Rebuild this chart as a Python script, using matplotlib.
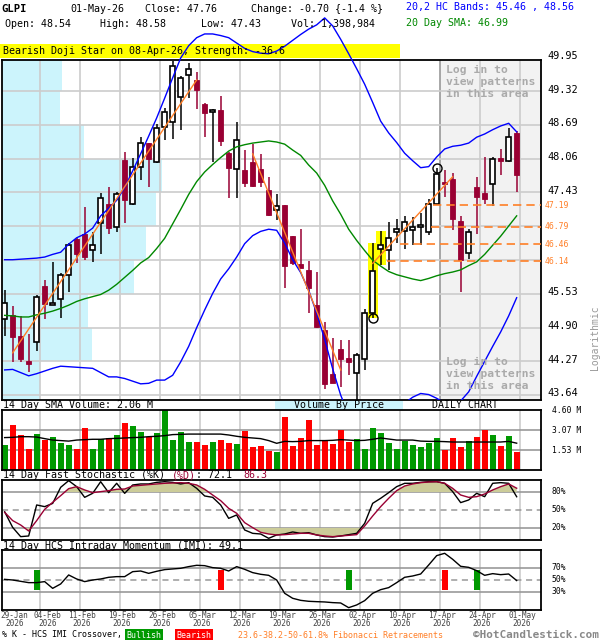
import matplotlib
matplotlib.use("Agg")
import matplotlib.pyplot as plt
import numpy as np
from matplotlib.patches import Rectangle
from matplotlib.transforms import blended_transform_factory

MONO = "DejaVu Sans Mono"
plt.rcParams["font.family"] = [MONO, "DejaVu Sans"]

# ---- GLPI daily data, 29-Jan-26 .. 01-May-26 (65 sessions)
opens = [45.06, 45.13, 44.74, 44.28, 44.64, 45.68, 45.33, 45.43, 45.88, 46.55,
         46.66, 46.35, 46.85, 47.21, 46.79, 48.03, 47.21, 47.90, 48.35, 48.00,
         48.65, 48.75, 49.22, 49.62, 49.52, 49.08, 48.93, 48.97, 48.16, 47.86,
         47.85, 48.00, 47.87, 47.47, 47.09, 47.19, 46.61, 46.09, 45.98, 45.32,
         44.86, 44.03, 44.51, 44.33, 44.06, 44.31, 45.17, 46.37, 46.35, 46.68,
         46.71, 46.73, 46.79, 46.68, 47.22, 47.63, 47.67, 46.89, 46.30, 47.52,
         47.41, 47.58, 48.07, 48.02, 48.54]
highs = [45.60, 45.31, 45.11, 44.78, 45.51, 45.79, 46.12, 45.93, 46.48, 46.57,
         47.16, 46.68, 47.41, 47.53, 47.44, 48.19, 48.07, 48.47, 48.36, 48.71,
         49.00, 49.89, 49.60, 49.85, 49.67, 49.10, 48.98, 49.23, 48.18, 48.75,
         48.22, 48.33, 48.15, 47.72, 47.40, 47.20, 46.62, 46.74, 46.15, 45.94,
         45.01, 44.70, 44.67, 44.67, 44.43, 45.24, 46.48, 46.71, 46.88, 46.93,
         46.99, 46.97, 47.04, 47.30, 47.88, 47.85, 47.79, 46.99, 46.74, 47.72,
         48.09, 48.09, 48.24, 48.64, 48.58]
lows = [44.74, 44.26, 44.26, 44.08, 44.47, 45.07, 45.32, 45.09, 45.57, 46.10,
        46.17, 46.13, 46.27, 46.65, 46.68, 46.86, 47.19, 47.66, 47.52, 47.97,
        48.41, 48.42, 48.59, 49.19, 48.98, 48.47, 48.00, 48.30, 47.32, 47.32,
        47.52, 47.52, 47.52, 46.99, 46.91, 45.64, 46.07, 46.02, 45.17, 44.89,
        43.75, 43.86, 43.80, 44.02, 43.50, 44.10, 45.09, 46.07, 45.98, 46.49,
        46.37, 46.45, 46.45, 46.63, 47.19, 47.35, 46.73, 45.57, 46.18, 46.66,
        47.22, 47.17, 47.75, 48.00, 47.43]
closes = [45.37, 44.73, 44.32, 44.23, 45.47, 45.34, 45.35, 45.88, 46.45, 46.27,
          46.23, 46.45, 47.32, 46.76, 47.40, 47.29, 47.91, 48.35, 48.05, 48.63,
          48.94, 49.79, 49.56, 49.73, 49.34, 48.92, 48.97, 48.38, 47.88, 48.41,
          47.61, 47.55, 47.63, 47.01, 47.17, 46.06, 46.11, 46.02, 45.65, 44.91,
          43.85, 43.86, 44.32, 44.26, 44.38, 45.18, 45.95, 46.45, 46.57, 46.74,
          46.88, 46.79, 46.82, 47.21, 47.77, 47.59, 46.93, 46.17, 46.68, 47.35,
          47.31, 48.05, 48.02, 48.47, 47.76]
volume_m = [1.89, 3.43, 2.66, 1.64, 2.74, 2.30, 2.56, 2.05, 1.89, 1.64,
            3.26, 1.59, 2.36, 2.43, 2.66, 3.59, 3.38, 2.89, 2.56, 2.82,
            4.70, 2.28, 2.89, 2.12, 2.12, 1.89, 2.12, 2.28, 2.05, 1.97,
            2.97, 1.74, 1.82, 1.43, 1.35, 4.05, 1.82, 2.43, 3.82, 1.89,
            2.26, 1.97, 3.05, 2.12, 2.36, 1.59, 3.20, 2.82, 2.05, 1.59,
            2.20, 1.89, 1.74, 2.05, 2.43, 1.53, 2.43, 1.74, 2.20, 2.51,
            3.05, 2.66, 1.82, 2.59, 1.40]
vol_sma14 = [2.49, 2.51, 2.56, 2.56, 2.53, 2.41, 2.30, 2.26, 2.22, 2.30,
             2.33, 2.36, 2.36, 2.41, 2.43, 2.46, 2.49, 2.51, 2.56, 2.59,
             2.64, 2.72, 2.74, 2.76, 2.76, 2.76, 2.76, 2.76, 2.69, 2.59,
             2.51, 2.46, 2.41, 2.26, 2.05, 2.20, 2.18, 2.20, 2.26, 2.26,
             2.26, 2.28, 2.33, 2.30, 2.26, 2.28, 2.36, 2.46, 2.38, 2.30,
             2.30, 2.30, 2.22, 2.20, 2.20, 2.18, 2.15, 2.15, 2.15, 2.15,
             2.15, 2.15, 2.15, 2.20, 2.06]
sma20 = [45.13, 45.12, 45.10, 45.10, 45.14, 45.17, 45.21, 45.26, 45.32, 45.39,
         45.44, 45.48, 45.52, 45.60, 45.71, 45.84, 45.97, 46.11, 46.21, 46.38,
         46.57, 46.84, 47.11, 47.39, 47.63, 47.81, 47.95, 48.08, 48.20, 48.28,
         48.32, 48.35, 48.37, 48.39, 48.37, 48.33, 48.22, 48.12, 47.94, 47.79,
         47.56, 47.27, 47.02, 46.74, 46.53, 46.34, 46.16, 46.05, 45.95, 45.89,
         45.85, 45.81, 45.78, 45.82, 45.87, 45.91, 45.94, 45.98, 46.06, 46.13,
         46.27, 46.44, 46.61, 46.80, 46.99]
band_up = [46.17, 46.17, 46.18, 46.19, 46.20, 46.22, 46.27, 46.31, 46.46, 46.58,
           46.65, 46.76, 46.99, 47.13, 47.28, 47.52, 47.83, 48.15, 48.48, 48.82,
           49.19, 49.57, 49.94, 50.17, 50.32, 50.39, 50.39, 50.36, 50.32, 50.22,
           50.12, 50.06, 50.03, 50.02, 50.07, 50.16, 50.27, 50.38, 50.48, 50.56,
           50.69, 50.54, 50.29, 50.02, 49.74, 49.45, 49.11, 48.76, 48.54, 48.36,
           48.16, 48.02, 47.89, 47.91, 48.09, 48.24, 48.29, 48.31, 48.35, 48.46,
           48.52, 48.60, 48.67, 48.72, 48.56]
band_lo = [44.11, 44.12, 44.06, 44.00, 44.04, 44.09, 44.14, 44.18, 44.17, 44.16,
           44.15, 44.14, 44.06, 43.98, 43.98, 43.95, 43.90, 43.85, 43.86, 43.92,
           43.92, 44.01, 44.26, 44.55, 44.90, 45.23, 45.54, 45.81, 46.00, 46.22,
           46.47, 46.62, 46.70, 46.74, 46.72, 46.48, 46.17, 45.93, 45.60, 45.17,
           44.68, 44.13, 43.64, 43.27, 43.08, 43.08, 43.21, 43.36, 43.43, 43.51,
           43.49, 43.60, 43.67, 43.65, 43.58, 43.49, 43.45, 43.53, 43.70, 43.99,
           44.27, 44.55, 44.82, 45.12, 45.46]
stoch_k = [47.0, 21.0, 5.6, 6.7, 58.4, 55.6, 61.0, 87.8, 98.9, 88.9,
           71.1, 77.8, 97.2, 78.9, 94.5, 77.8, 91.7, 93.4, 93.4, 96.1,
           97.2, 96.1, 93.4, 95.6, 86.1, 73.4, 71.1, 58.4, 36.1, 41.7,
           16.7, 11.1, 10.0, 2.8, 8.4, 10.0, 13.4, 11.1, 12.2, 8.4,
           5.6, 5.0, 6.7, 8.9, 11.1, 27.8, 61.1, 69.5, 78.9, 88.9,
           94.5, 94.5, 96.1, 97.2, 97.2, 94.5, 80.6, 62.3, 66.7, 77.8,
           72.2, 94.5, 95.6, 94.5, 72.1]
stoch_d = [46.1, 32.3, 25.0, 15.0, 32.3, 51.1, 62.8, 73.9, 85.6, 88.9,
           83.4, 78.9, 80.6, 82.3, 84.5, 85.0, 90.0, 91.1, 92.3, 93.4,
           94.5, 95.0, 95.6, 94.5, 91.7, 84.5, 75.0, 65.6, 52.8, 44.5,
           28.9, 20.6, 12.8, 10.0, 8.4, 8.9, 10.0, 11.1, 11.1, 8.4,
           6.7, 5.6, 6.7, 7.8, 8.9, 23.4, 40.0, 55.6, 69.5, 82.3,
           90.0, 93.4, 95.6, 96.7, 97.2, 94.5, 86.1, 75.0, 71.1, 72.2,
           76.7, 83.4, 88.9, 93.4, 86.3]
imi = [51.1, 50.0, 47.8, 45.6, 45.6, 47.3, 36.1, 43.4, 58.4, 51.7,
       47.3, 50.0, 51.7, 54.5, 55.6, 55.6, 63.9, 65.0, 61.1, 64.5,
       67.3, 68.4, 69.5, 72.3, 74.5, 73.9, 70.6, 69.5, 65.0, 72.3,
       67.8, 62.3, 59.5, 57.8, 50.0, 27.8, 19.5, 16.1, 14.5, 13.9,
       13.4, 12.3, 11.7, 3.9, 8.4, 15.6, 27.8, 33.9, 37.3, 45.6,
       54.5, 56.7, 60.0, 75.0, 90.6, 94.5, 84.5, 72.8, 71.1, 65.6,
       57.8, 60.6, 58.9, 60.0, 49.1]

date_labels = ["29-Jan", "04-Feb", "11-Feb", "19-Feb", "26-Feb", "05-Mar", "12-Mar",
               "19-Mar", "26-Mar", "02-Apr", "10-Apr", "17-Apr", "24-Apr", "01-May"]
date_idx = [0, 4, 9, 14, 19, 24, 29, 34, 39, 44, 49, 54, 59, 64]

price_ticks = [49.95, 49.32, 48.69, 48.06, 47.43, 46.80, 46.17, 45.53, 44.90, 44.27, 43.64]
vol_ticks = [4.60, 3.07, 1.53]
# volume by price, bins bottom -> top (between the price grid lines)
vbp = [3.8, 9.0, 8.6, 13.2, 14.4, 15.4, 16.0, 8.2, 5.8, 6.0]

fib_levels = [47.19, 46.79, 46.46, 46.14]
fib_start = [53.5, 53.3, 49.4, 47.8]
trend_lines = [((1, 44.43), (24, 49.53)), ((31, 48.15), (42, 44.11)), ((46, 46.10), (56, 47.72))]
pivots = [(54, 47.88), (46, 45.09)]
pattern_idx = [46, 47]
bull_cross = [4, 43, 59]
bear_cross = [27, 55]

# ---- colours / layout
RED = "#990033"
VRED, VGREEN = "#ff0000", "#009900"
ORANGE = "#ff7f27"
GRID = "#cccccc"
W, H = 600, 640
n = len(closes)
x = np.arange(n)
XL = ((2 - 4.67) / 8, (541 - 4.67) / 8)
YL = (43.548, 49.903)
week_grid = np.array(date_idx[1:]) + 0.42

fig = plt.figure(figsize=(W / 100, H / 100), dpi=100)


def fx(px):
    return px / W


def fy(py):
    return 1 - py / H


def px_axes(x0, y0, x1, y1):
    a = fig.add_axes([x0 / W, 1 - y1 / H, (x1 - x0) / W, (y1 - y0) / H])
    a.set_xlim(XL)
    a.set_xticks([])
    a.set_yticks([])
    for s in a.spines.values():
        s.set_linewidth(1.3)
    return a


def ftext(xp, yp, s, size=7.2, **kw):
    kw.setdefault("va", "center")
    return fig.text(fx(xp), fy(yp), s, fontsize=size, **kw)


def seg_text(xp, yp, parts, size=7.2):
    cw = 0.602 * size * 100 / 72
    for s, col in parts:
        ftext(xp, yp, s, size, color=col)
        xp += len(s) * cw


# ---- header
ftext(1, 9, "GLPI", 7.6, weight="bold")
ftext(70, 9, "01-May-26")
ftext(145, 9, f"Close: {closes[-1]:.2f}")
ftext(251, 9, "Change: -0.70 {-1.4 %}")
ftext(5, 24, f"Open: {opens[-1]:.2f}")
ftext(100, 24, f"High: {highs[-1]:.2f}")
ftext(201, 24, f"Low: {lows[-1]:.2f}")
ftext(291, 24, "Vol: 1,398,984")
ftext(406, 7, f"20,2 HC Bands: {band_lo[-1]:.2f} , {band_up[-1]:.2f}", color="#0000ff")
ftext(406, 23, f"20 Day SMA: {sma20[-1]:.2f}", color="#008800")
fig.patches.append(Rectangle((0, fy(58)), fx(400), 14 / H, transform=fig.transFigure,
                             facecolor="#ffff00", edgecolor="none", zorder=-1))
ftext(3, 51.5, "Bearish Doji Star on 08-Apr-26, Strength: -36.6")

# ---- volume by price (underneath the price axes)
axp = px_axes(2, 60, 541, 400)
axp.set_ylim(YL)
edges = [YL[0]] + price_ticks[::-1][1:-1] + [YL[1]]
axp.barh(edges[:-1], vbp, height=np.diff(edges), align="edge", color="#ccf4fc", lw=0)
axp.set_xlim(0, 53.9)
axp.axis("off")

# ---- price panel
ax = px_axes(2, 60, 541, 400)
ax.patch.set_visible(False)
ax.set_ylim(YL)
ax.add_patch(Rectangle((week_grid[-3], YL[0]), XL[1] - week_grid[-3], YL[1] - YL[0],
                       facecolor="#f2f2f2", edgecolor="none", zorder=0.5))
for g in week_grid:
    ax.axvline(g, color="#999999" if g == week_grid[-3] else GRID, lw=1.2, zorder=1)
for t in price_ticks:
    ax.axhline(t, color=GRID, lw=1.2, zorder=1)

for i in pattern_idx:
    ax.add_patch(Rectangle((i - 0.62, lows[i]), 1.24, highs[i] - lows[i],
                           facecolor="#ffff00", edgecolor="none", zorder=2))

for i in range(n):
    o, h, l, c = opens[i], highs[i], lows[i], closes[i]
    up = c >= o
    col = "black" if up else RED
    ax.vlines(i, l, h, color=col, lw=1.1, zorder=3)
    ax.add_patch(Rectangle((i - 0.34, min(o, c)), 0.68, max(abs(c - o), 0.025),
                           facecolor="white" if up else RED, edgecolor=col,
                           lw=1.2 if up else 0.6, zorder=4))

ax.plot(x, sma20, color="#008800", lw=1, zorder=5)
ax.plot(x, band_lo, color="#0000ff", lw=1, zorder=5)
ax.plot(x, band_up, color="#0000ff", lw=1, zorder=5, clip_on=False)
for (x0, y0), (x1, y1) in trend_lines:
    ax.plot([x0, x1], [y0, y1], color=ORANGE, lw=1, zorder=5)
for lv, st in zip(fib_levels, fib_start):
    ax.hlines(lv, st, XL[1], colors=ORANGE, lw=1.2, linestyles=(0, (5, 3)), zorder=5)
for px_, py_ in pivots:
    ax.plot(px_, py_, "o", ms=6.5, mfc="none", mec="black", mew=1, zorder=6)

rt = blended_transform_factory(ax.transAxes, ax.transData)
for t in price_ticks:
    if min(abs(t - f) for f in fib_levels) > 0.1:
        ax.text(1.012, t + 0.03, f"{t:.2f}", transform=rt, fontsize=7.4,
                va="center", clip_on=False)
for lv in fib_levels:
    ax.text(1.007, lv, f"{lv:.2f}", transform=rt, fontsize=5.9, color=ORANGE,
            va="center", clip_on=False)
ftext(595, 338, "Logarithmic", 7, rotation=90, ha="center", color="#999999")

login = "Log in to\nview patterns\nin this area"
for yp in (82, 374):
    ftext(446, yp, login, 8.2, color="#aaaaaa", weight="bold", linespacing=1.25)

# ---- volume panel
ftext(3, 405, f"14 Day SMA Volume: {vol_sma14[-1]:.2f} M")
fig.patches.append(Rectangle((fx(275), fy(410)), fx(128), 9 / H, transform=fig.transFigure,
                             facecolor="#ccf4fc", edgecolor="none", zorder=-1))
ftext(339, 405, "Volume By Price", ha="center")
ftext(465, 405, "DAILY CHART", ha="center")

axv = px_axes(2, 410, 541, 470)
axv.set_ylim(0, 4.61)
for g in week_grid:
    axv.axvline(g, color=GRID, lw=1.2, zorder=1)
for t in vol_ticks[1:]:
    axv.axhline(t, color="#999999", lw=1.2, zorder=1)
vcols = [VGREEN if c >= o else VRED for o, c in zip(opens, closes)]
axv.bar(x, volume_m, width=0.75, color=vcols, zorder=2)
axv.plot(x, vol_sma14, color="black", lw=1, zorder=3)
vt = blended_transform_factory(axv.transAxes, axv.transData)
for t in vol_ticks:
    axv.text(1.02, t, f"{t:.2f} M", transform=vt, fontsize=5.8, va="center", clip_on=False)

# ---- stochastic panel
seg_text(3, 475, [("14 Day Fast Stochastic (%K) ", "black"), ("(%D)", RED),
                  (f": {stoch_k[-1]:.1f}  ", "black"), (f"{stoch_d[-1]:.1f}", RED)])
axs = px_axes(2, 480, 541, 540)
axs.set_ylim(0, 100)
for g in week_grid:
    axs.axvline(g, color=GRID, lw=1.2, zorder=1)
axs.axhline(80, color="#999999", lw=1.2, zorder=1)
axs.axhline(20, color="#999999", lw=1.2, zorder=1)
axs.axhline(50, color="#999999", lw=1.1, ls=(0, (4, 3)), zorder=1)
sd = np.array(stoch_d)
axs.fill_between(x, sd, 80, where=sd >= 80, interpolate=True, color="#cccc99", lw=0, zorder=1.5)
axs.fill_between(x, sd, 20, where=sd <= 20, interpolate=True, color="#cccc99", lw=0, zorder=1.5)
axs.plot(x, stoch_k, color="black", lw=1, zorder=3)
axs.plot(x, stoch_d, color=RED, lw=1, zorder=3)
st_ = blended_transform_factory(axs.transAxes, axs.transData)
for t in (80, 50, 20):
    axs.text(1.02, t, f"{t}%", transform=st_, fontsize=5.8, va="center", clip_on=False)

# ---- IMI panel
ftext(3, 546, f"14 Day HCS Intraday Momentum (IMI): {imi[-1]:.1f}")
axi = px_axes(2, 550, 541, 610)
axi.set_ylim(0, 100)
for g in week_grid:
    axi.axvline(g, color=GRID, lw=1.2, zorder=1)
axi.axhline(70, color="#999999", lw=1.2, zorder=1)
axi.axhline(30, color="#999999", lw=1.2, zorder=1)
axi.axhline(50, color="#999999", lw=1.1, ls=(0, (4, 3)), zorder=1)
axi.bar(bull_cross, 34, bottom=33, width=0.75, color=VGREEN, zorder=2)
axi.bar(bear_cross, 34, bottom=33, width=0.75, color=VRED, zorder=2)
axi.plot(x, imi, color="black", lw=1, zorder=3)
it = blended_transform_factory(axi.transAxes, axi.transData)
for t in (70, 50, 30):
    axi.text(1.02, t, f"{t}%", transform=it, fontsize=5.8, va="center", clip_on=False)

# ---- date labels (centred on week lines, pushed right where they would collide)
centers = [d + 0.67 for d in date_idx]
centers[0] = max(centers[0], (0 - 4.67 + 14.5) / 8)
for k in range(1, len(centers)):
    centers[k] = max(centers[k], centers[k - 1] + 33 / 8)
dt = blended_transform_factory(axi.transData, fig.transFigure)
for c, lab in zip(centers, date_labels):
    fig.text(c, fy(615.5), lab, transform=dt, fontsize=5.6, ha="center", va="center", color="#444444")
    fig.text(c, fy(623.5), "2026", transform=dt, fontsize=5.6, ha="center", va="center", color="#444444")

# ---- footer
ftext(2, 635, "% K - HCS IMI Crossover,", 6)
fig.patches.append(Rectangle((fx(125), fy(641)), fx(38), 12 / H, transform=fig.transFigure,
                             facecolor=VGREEN, edgecolor="none"))
ftext(144, 635, "Bullish", 6, color="white", ha="center")
fig.patches.append(Rectangle((fx(175), fy(641)), fx(38), 12 / H, transform=fig.transFigure,
                             facecolor=VRED, edgecolor="none"))
ftext(194, 635, "Bearish", 6, color="white", ha="center")
ftext(238, 635, "23.6-38.2-50-61.8% Fibonacci Retracements", 6, color=ORANGE)
ftext(599, 635.5, "\u00a9HotCandlestick.com", 7.9, color="#888888", weight="bold", ha="right")

fig.savefig("out.png", dpi=100)
